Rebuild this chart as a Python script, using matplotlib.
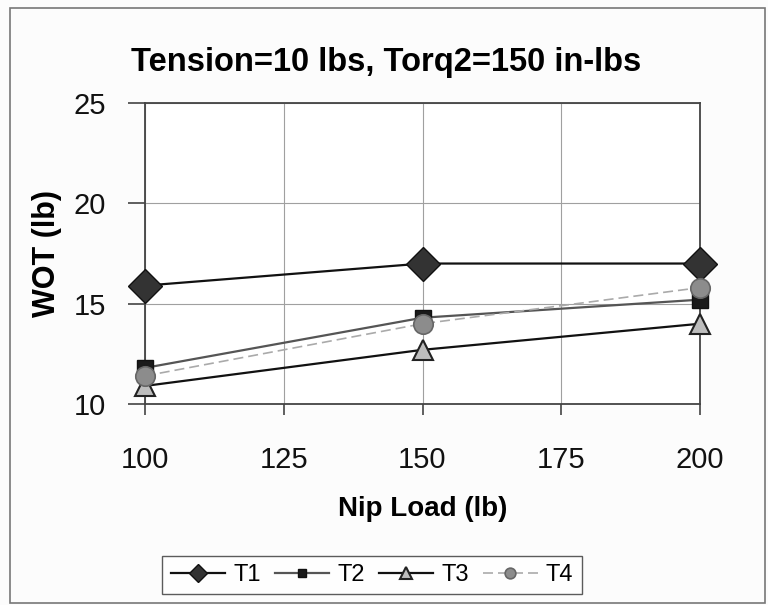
import matplotlib
matplotlib.use("Agg")
import matplotlib.pyplot as plt
from matplotlib.patches import Rectangle

nip_load = [100, 150, 200]
t1 = [15.9, 17.0, 17.0]
t2 = [11.8, 14.3, 15.2]
t3 = [10.9, 12.7, 14.0]
t4 = [11.4, 14.0, 15.8]
series_names = ["T1", "T2", "T3", "T4"]
x_ticks = [100, 125, 150, 175, 200]
y_ticks = [10, 15, 20, 25]

plt.rcParams['font.family'] = ['Liberation Sans', 'DejaVu Sans']

fig = plt.figure(figsize=(7.68, 6.05), dpi=100, facecolor='#fcfcfc')
ax = fig.add_axes([145/768, 1-404/605, (700-145)/768, (404-103)/605])
ax.set_facecolor('white')

ax.plot(nip_load, t1, color='#111111', lw=1.6, marker='D', markersize=17,
        markerfacecolor='#333333', markeredgecolor='#111111', label=series_names[0],
        zorder=5, clip_on=False)
ax.plot(nip_load, t2, color='#555555', lw=1.6, marker='s', markersize=11,
        markerfacecolor='#1a1a1a', markeredgecolor='#111111', label=series_names[1],
        zorder=4, clip_on=False)
ax.plot(nip_load, t3, color='#111111', lw=1.6, marker='^', markersize=15,
        markerfacecolor='#bdbdbd', markeredgecolor='#222222', markeredgewidth=1.5,
        label=series_names[2], zorder=4, clip_on=False)
ax.plot(nip_load, t4, color='#aaaaaa', lw=1.2, ls=(0, (6, 3)), marker='o', markersize=14,
        markerfacecolor='#8c8c8c', markeredgecolor='#666666', markeredgewidth=1.2,
        label=series_names[3], zorder=6, clip_on=False)

ax.set_xlim(100, 200)
ax.set_ylim(10, 25)
ax.set_xticks(x_ticks)
ax.set_yticks(y_ticks)
ax.grid(True, color='#a0a0a0', lw=0.8)
ax.set_axisbelow(True)
for s in ax.spines.values():
    s.set_color('#444444')
    s.set_linewidth(1.3)
ax.tick_params(axis='both', labelsize=21, colors='#111111', width=1.2)
ax.tick_params(axis='y', length=12, pad=16, color='#444444')
ax.tick_params(axis='x', length=8, pad=22, color='#444444')

ax.set_xlabel('Nip Load (lb)', fontsize=20, fontweight='bold', labelpad=16)
ax.set_ylabel('WOT (lb)', fontsize=22, fontweight='bold', labelpad=8)

fig.text(386/768, 1-63/605, 'Tension=10 lbs, Torq2=150 in-lbs', fontsize=23.5,
         fontweight='bold', ha='center', va='center')

leg = fig.legend(loc='center', bbox_to_anchor=(372/768, 1-575/605), ncol=4,
                 frameon=True, fancybox=False, edgecolor='#333333',
                 prop={'size': 17}, handlelength=2.3,
                 columnspacing=0.6, handletextpad=0.35, borderpad=0.35, markerscale=0.55)
leg.get_frame().set_linewidth(1.0)
leg.get_frame().set_facecolor('white')

fig.patches.append(Rectangle((10/768, 1-603/605), 755/768, 595/605, transform=fig.transFigure,
                             fill=False, edgecolor='#777777', lw=1.2))

fig.savefig('out.png', dpi=100, facecolor=fig.get_facecolor())
